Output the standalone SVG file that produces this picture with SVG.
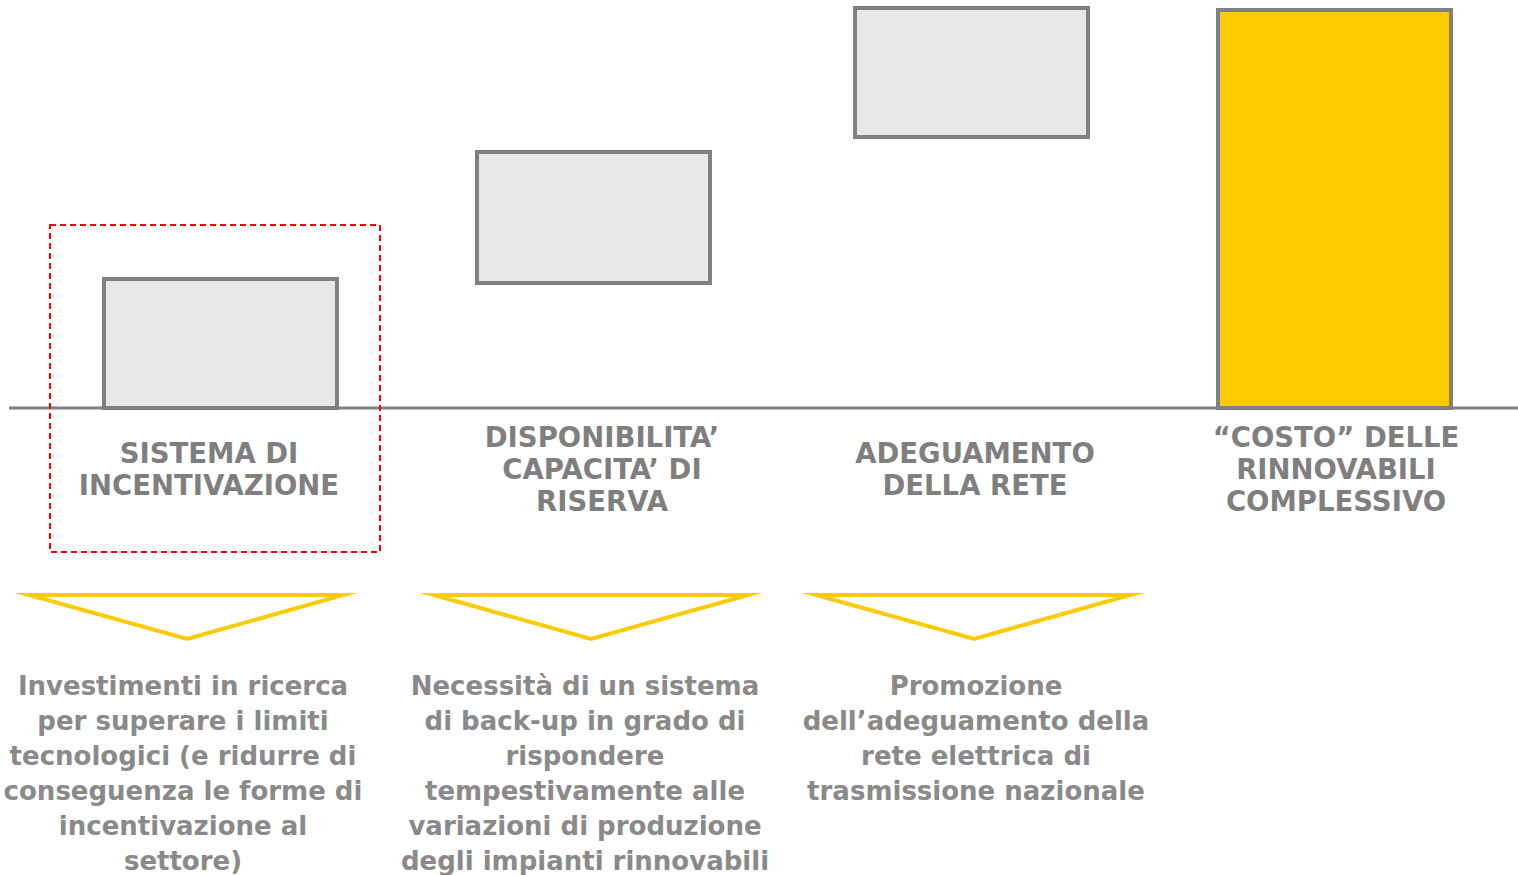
<svg xmlns="http://www.w3.org/2000/svg" width="1518" height="875" viewBox="0 0 1518 875">
<style>
.bar{fill:#e8e8e8;stroke:#808080;stroke-width:4}
.tot{fill:#fecb00;stroke:#808080;stroke-width:4}
.hd{font-family:"DejaVu Sans","Verdana",sans-serif;font-weight:bold;font-size:27.5px;fill:#7f7f7f;text-anchor:middle}
.tx{font-family:"DejaVu Sans","Verdana",sans-serif;font-weight:bold;font-size:26px;fill:#8a8a8a;text-anchor:middle}
.tri{fill:none;stroke:#fecb00;stroke-width:4;stroke-linejoin:miter;stroke-miterlimit:20}
</style>
<rect width="1518" height="875" fill="#ffffff"/>
<g id="connectors">
<line x1="9" y1="408" x2="1518" y2="408" stroke="#808080" stroke-width="3"/>
<polygon class="tri" points="29,595 343,595 187,639"/>
<polygon class="tri" points="434,595 748,595 591,639"/>
<polygon class="tri" points="816,595 1130,595 974,639"/>
</g>
<g id="highlight">
<rect x="50" y="225" width="330" height="327" fill="none" stroke="#ff0000" stroke-width="2" stroke-dasharray="6,4"/>
</g>
<g id="node1">
<rect class="bar" x="104" y="279" width="233" height="129"/>
<text class="hd" x="209" y="463">SISTEMA DI</text>
<text class="hd" x="209" y="495">INCENTIVAZIONE</text>
</g>
<g id="node2">
<rect class="bar" x="477" y="152" width="233" height="131"/>
<text class="hd" x="602" y="447">DISPONIBILITA’</text>
<text class="hd" x="602" y="479">CAPACITA’ DI</text>
<text class="hd" x="602" y="511">RISERVA</text>
</g>
<g id="node3">
<rect class="bar" x="855" y="8" width="233" height="129"/>
<text class="hd" x="975" y="463">ADEGUAMENTO</text>
<text class="hd" x="975" y="495">DELLA RETE</text>
</g>
<g id="node4">
<rect class="tot" x="1218" y="10" width="233" height="398"/>
<text class="hd" x="1336" y="447">“COSTO” DELLE</text>
<text class="hd" x="1336" y="479">RINNOVABILI</text>
<text class="hd" x="1336" y="511">COMPLESSIVO</text>
</g>
<g id="desc1">
<text class="tx" x="183" y="695">Investimenti in ricerca</text>
<text class="tx" x="183" y="730">per superare i limiti</text>
<text class="tx" x="183" y="765">tecnologici (e ridurre di</text>
<text class="tx" x="183" y="800">conseguenza le forme di</text>
<text class="tx" x="183" y="835">incentivazione al</text>
<text class="tx" x="183" y="870">settore)</text>
</g>
<g id="desc2">
<text class="tx" x="585" y="695">Necessità di un sistema</text>
<text class="tx" x="585" y="730">di back-up in grado di</text>
<text class="tx" x="585" y="765">rispondere</text>
<text class="tx" x="585" y="800">tempestivamente alle</text>
<text class="tx" x="585" y="835">variazioni di produzione</text>
<text class="tx" x="585" y="870">degli impianti rinnovabili</text>
</g>
<g id="desc3">
<text class="tx" x="976" y="695">Promozione</text>
<text class="tx" x="976" y="730">dell’adeguamento della</text>
<text class="tx" x="976" y="765">rete elettrica di</text>
<text class="tx" x="976" y="800">trasmissione nazionale</text>
</g>
</svg>
